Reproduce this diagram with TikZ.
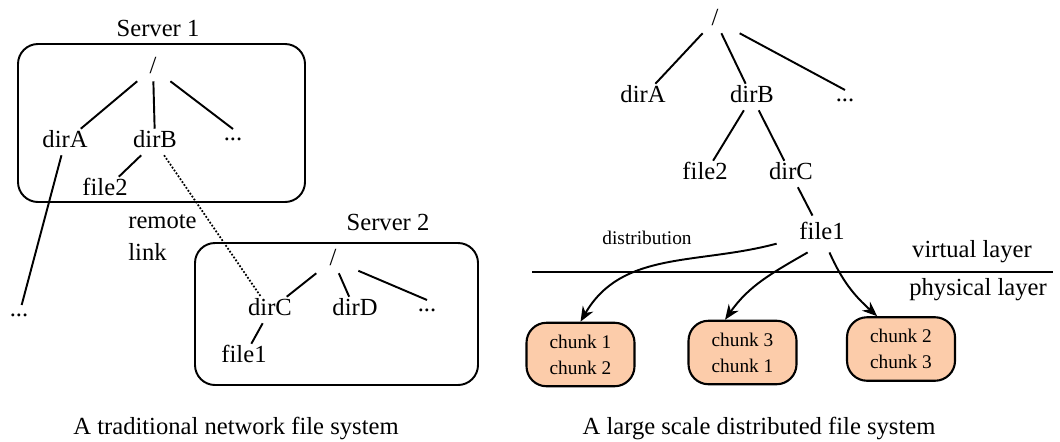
\documentclass[tikz,border=0pt]{standalone}
\usepackage{fontspec}
\setmainfont{Liberation Serif}
\usepackage{tikz}
\usetikzlibrary{arrows.meta}
\definecolor{chunkfill}{RGB}{252,204,170}

\begin{document}
\begin{tikzpicture}[
  font=\fontsize{14}{17}\selectfont,
  tnode/.style={text height=1.5ex, text depth=.25ex},
  rootnode/.style={tnode, minimum width=1cm},
  dotnode/.style={inner sep=0.164cm},
  serverbox/.style={draw, line width=1.1pt, rounded corners=0.4cm},
  chunkbox/.style={draw, line width=1.2pt, fill=chunkfill, rounded corners=0.4cm, minimum width=2.16cm, minimum height=1.27cm, align=center, font=\fontsize{11}{14.8}\selectfont},
  treeline/.style={line width=1.1pt},
  distarrow/.style={treeline, -{Stealth[length=0.3cm, width=0.24cm]}}
]
  \useasboundingbox (0,0) rectangle (21.2,8.82);

  %--- Server 1 ---
  \node (srv1) at (3.16,8.26) {Server 1};
  \draw[serverbox] (0.36,4.78) rectangle (6.10,7.94);
  \node[rootnode] (rootA) at (3.06,7.46) {/};
  \node[tnode] (dirA1) at (1.30,5.98) {dirA};
  \node[tnode] (dirB1) at (3.10,5.98) {dirB};
  \node[dotnode] (more1) at (4.66,6.04) {...};
  \node[tnode] (file2a) at (2.10,5.02) {file2};
  \node[dotnode] (more0) at (0.38,2.52) {...};

  \draw[treeline] (rootA) -- (dirA1);
  \draw[treeline] (rootA) -- (dirB1);
  \draw[treeline] (rootA) -- (more1.north);
  \draw[treeline] (dirB1) -- (file2a);
  \draw[treeline] (dirA1) -- (more0);

  % remote link
  \node[align=left, font=\fontsize{14}{18.5}\selectfont] (rlink) at (3.25,4.07) {remote\\link};

  %--- Server 2 ---
  \node (srv2) at (7.76,4.38) {Server 2};
  \draw[serverbox] (3.90,1.12) rectangle (9.56,3.96);
  \node[rootnode] (rootB) at (6.66,3.62) {/};
  \node[tnode] (dirC2) at (5.40,2.62) {dirC};
  \node[tnode] (dirD2) at (7.10,2.62) {dirD};
  \node[dotnode] (more2) at (8.54,2.62) {...};
  \node[tnode] (file1b) at (4.88,1.68) {file1};

  \draw[treeline] (rootB) -- (dirC2);
  \draw[treeline] (rootB) -- (dirD2);
  \draw[treeline] (rootB) -- (more2.north);
  \draw[treeline] (dirC2) -- (file1b);

  \draw[line width=1pt, densely dotted] (dirB1) -- (dirC2);

  \node (capL) at (4.72,0.26) {A traditional network file system};

  %--- Distributed namespace ---
  \node[rootnode] (rootC) at (14.30,8.42) {/};
  \node[tnode] (dirA3) at (12.86,6.88) {dirA};
  \node[tnode] (dirB3) at (15.04,6.88) {dirB};
  \node[dotnode] (more3) at (16.90,6.82) {...};
  \node[tnode] (file2c) at (14.10,5.34) {file2};
  \node[tnode] (dirC3) at (15.82,5.34) {dirC};
  \node[tnode, inner xsep=0.45cm, inner ysep=0.22cm] (file1c) at (16.44,4.14) {file1};

  \draw[treeline] (rootC) -- (dirA3);
  \draw[treeline] (rootC) -- (dirB3);
  \draw[treeline] (rootC) -- (more3.north);
  \draw[treeline] (dirB3) -- (file2c);
  \draw[treeline] (dirB3) -- (dirC3);
  \draw[treeline] (dirC3) -- (file1c);

  % layer split
  \coordinate (layL) at (10.64,3.38);
  \coordinate (layR) at (21.06,3.38);
  \draw[treeline] (layL) -- (layR);
  \node (virt) at (19.44,3.78) {virtual layer};
  \node (phys) at (19.56,3.02) {physical layer};
  \node[font=\fontsize{11}{14}\selectfont] (distr) at (12.94,4.06) {distribution};

  % chunk servers
  \node[chunkbox] (chunk1) at (11.61,1.73) {chunk 1\\chunk 2};
  \node[chunkbox] (chunk2) at (14.85,1.77) {chunk 3\\chunk 1};
  \node[chunkbox] (chunk3) at (18.02,1.84) {chunk 2\\chunk 3};

  \draw[distarrow] (file1c.192) to[out=195, in=60] (chunk1.north);
  \draw[distarrow] (file1c.232) to[out=210, in=55] (chunk2.118);
  \draw[distarrow] (file1c.292) to[out=-66, in=138] (chunk3.126);

  \node (capR) at (15.18,0.26) {A large scale distributed file system};
\end{tikzpicture}
\end{document}
